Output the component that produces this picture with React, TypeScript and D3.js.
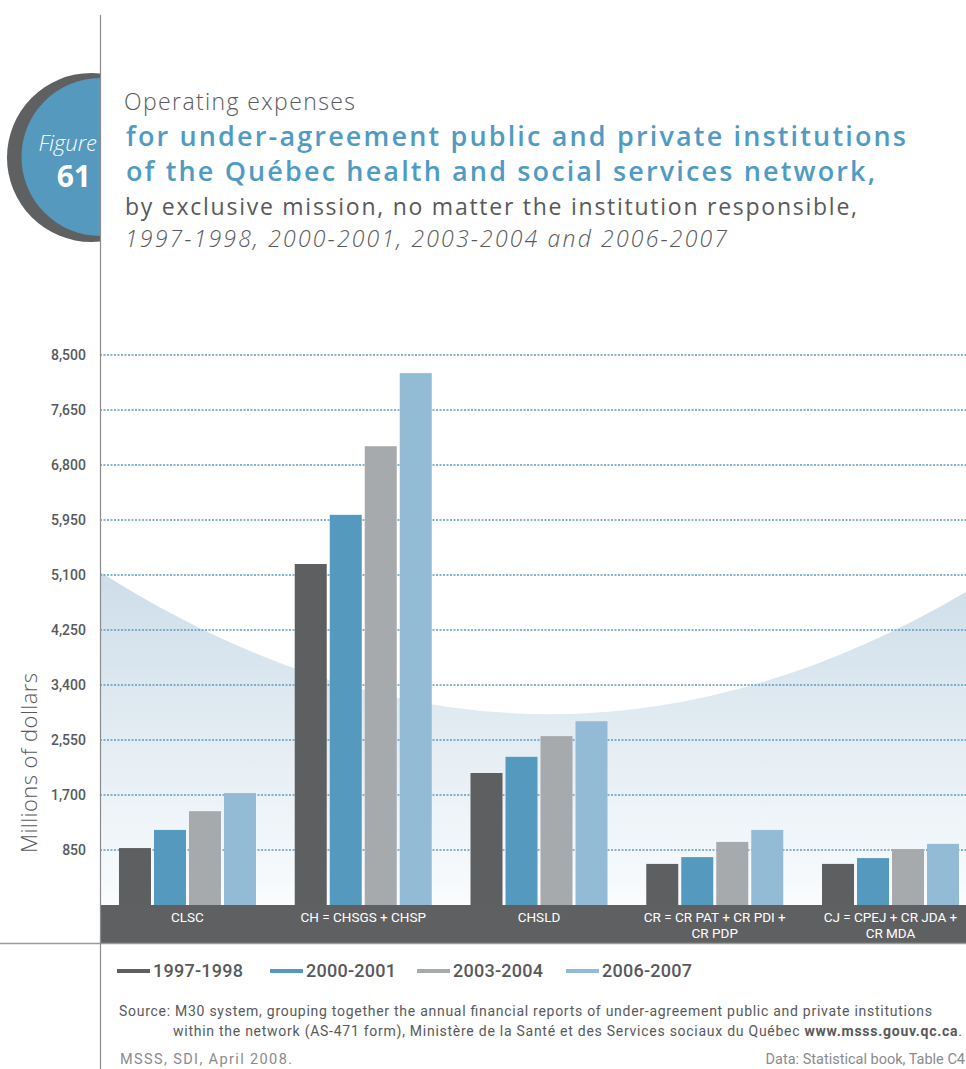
import React from "react";
import * as d3 from "d3";

const categories = ["CLSC", "CH", "CHSLD", "CR", "CJ"];
const categoryLabels = [
  ["CLSC"],
  ["CH = CHSGS + CHSP"],
  ["CHSLD"],
  ["CR = CR PAT + CR PDI +", "CR PDP"],
  ["CJ = CPEJ + CR JDA +", "CR MDA"],
];
const seriesNames = ["1997-1998", "2000-2001", "2003-2004", "2006-2007"];
const values1997 = [880, 5270, 2040, 635, 635];
const values2000 = [1160, 6030, 2290, 740, 725];
const values2003 = [1450, 7090, 2610, 975, 865];
const values2006 = [1730, 8220, 2840, 1160, 945];
const yTicks = [850, 1700, 2550, 3400, 4250, 5100, 5950, 6800, 7650, 8500];
const seriesColors = ["#5e5f61", "#5599bf", "#a7aaad", "#94bbd5"];

const W = 966;
const H = 1069;
const AXIS_X = 100;
const PLOT_TOP = 355;
const PLOT_BOTTOM = 905;
const BAND_BOTTOM = 943;

export default function App() {
  const series = [values1997, values2000, values2003, values2006];
  const y = d3.scaleLinear().domain([0, 8500]).range([PLOT_BOTTOM, PLOT_TOP]);
  const x0 = d3
    .scaleBand<string>()
    .domain(categories)
    .range([AXIS_X, 978])
    .paddingInner(0.2205)
    .paddingOuter(0.108);
  const x1 = d3
    .scaleBand<string>()
    .domain(seriesNames)
    .range([0, x0.bandwidth()])
    .paddingInner(0.0857)
    .paddingOuter(0);
  const fmt = d3.format(",");

  const curve = `M${AXIS_X},572 Q533,846 ${W},592 L${W},${PLOT_BOTTOM} L${AXIS_X},${PLOT_BOTTOM} Z`;

  const grey = "#58595b";
  const legendX = [117, 270, 417, 566];

  return (
    <div style={{ position: "absolute", left: 0, top: 0 }}>
      <svg width={W} height={H} style={{ display: "block", background: "#fff" }}>
        <defs>
          <linearGradient id="bgGrad" x1="0" y1="572" x2="0" y2={PLOT_BOTTOM} gradientUnits="userSpaceOnUse">
            <stop offset="0" stopColor="#cddde9" />
            <stop offset="1" stopColor="#fafcfd" />
          </linearGradient>
          <clipPath id="badgeClip">
            <rect x={0} y={0} width={AXIS_X} height={400} />
          </clipPath>
        </defs>

        {/* badge */}
        <g clipPath="url(#badgeClip)">
          <circle cx={91.5} cy={157.5} r={84.5} fill="#5f6062" />
          <circle cx={100.5} cy={157} r={79} fill="#5599bf" />
        </g>
        <text x={97} y={151} textAnchor="end" fill="#fff" fontFamily="'Open Sans', sans-serif" fontStyle="italic" fontWeight={300} fontSize={22}>
          Figure
        </text>
        <text x={91} y={187} textAnchor="end" fill="#fff" fontFamily="'Open Sans', sans-serif" fontWeight={700} fontSize={30}>
          61
        </text>

        {/* title */}
        <text x={124} y={110} fill={grey} fontFamily="'Open Sans', sans-serif" fontWeight={300} fontSize={23} textLength={231}>
          Operating expenses
        </text>
        <text x={126} y={146} fill="#4f9bc4" fontFamily="'Open Sans', sans-serif" fontWeight={600} fontSize={27} textLength={780}>
          for under-agreement public and private institutions
        </text>
        <text x={126} y={181} fill="#4f9bc4" fontFamily="'Open Sans', sans-serif" fontWeight={600} fontSize={27} textLength={749}>
          of the Québec health and social services network,
        </text>
        <text x={125} y={215} fill={grey} fontFamily="'Open Sans', sans-serif" fontWeight={400} fontSize={23} textLength={732}>
          by exclusive mission, no matter the institution responsible,
        </text>
        <text x={125} y={247} fill={grey} fontFamily="'Open Sans', sans-serif" fontStyle="italic" fontWeight={300} fontSize={23} textLength={602}>
          1997-1998, 2000-2001, 2003-2004 and 2006-2007
        </text>

        {/* background shape */}
        <path d={curve} fill="url(#bgGrad)" />

        {/* gridlines */}
        {yTicks.map((t) => (
          <line
            key={t}
            x1={AXIS_X}
            x2={W}
            y1={y(t)}
            y2={y(t)}
            stroke="#5b9bc4"
            strokeWidth={1.5}
            strokeDasharray="2 1.5"
          />
        ))}
        {yTicks.map((t) => (
          <text
            key={"l" + t}
            x={86}
            y={y(t) + 5}
            textAnchor="end"
            fill={grey}
            fontFamily="Roboto, sans-serif"
            fontWeight={500}
            fontSize={14}
          >
            {fmt(t)}
          </text>
        ))}

        {/* bars */}
        {categories.map((c, ci) => (
          <g key={c} transform={`translate(${x0(c)},0)`}>
            {seriesNames.map((s, si) => {
              const v = series[si][ci];
              return (
                <rect
                  key={s}
                  x={x1(s)}
                  y={y(v)}
                  width={x1.bandwidth()}
                  height={y(0) - y(v)}
                  fill={seriesColors[si]}
                />
              );
            })}
          </g>
        ))}

        {/* category band */}
        <rect x={AXIS_X} y={PLOT_BOTTOM} width={W - AXIS_X} height={BAND_BOTTOM - PLOT_BOTTOM} fill="#5f6062" />
        {categories.map((c, ci) =>
          categoryLabels[ci].map((line, li) => (
            <text
              key={c + li}
              x={(x0(c) as number) + x0.bandwidth() / 2}
              y={PLOT_BOTTOM + 17 + li * 16}
              textAnchor="middle"
              fill="#fff"
              fontFamily="Roboto, sans-serif"
              fontWeight={400}
              fontSize={13.5}
            >
              {line}
            </text>
          ))
        )}

        {/* axis lines */}
        <line x1={0} x2={W} y1={BAND_BOTTOM + 0.5} y2={BAND_BOTTOM + 0.5} stroke="#9a9b9d" strokeWidth={1.5} />
        <line x1={AXIS_X + 0.5} x2={AXIS_X + 0.5} y1={15} y2={H} stroke="#8a8b8d" strokeWidth={1.2} />

        {/* y axis title */}
        <text
          transform={`translate(37,763) rotate(-90)`}
          textAnchor="middle"
          fill={grey}
          fontFamily="'Open Sans', sans-serif"
          fontWeight={300}
          fontSize={22}
          textLength={180}
        >
          Millions of dollars
        </text>

        {/* legend */}
        {seriesNames.map((s, i) => (
          <g key={s}>
            <line x1={legendX[i]} x2={legendX[i] + 33} y1={971} y2={971} stroke={seriesColors[i]} strokeWidth={4} />
            <text x={legendX[i] + 36} y={977} fill={grey} fontFamily="Roboto, sans-serif" fontWeight={500} fontSize={18} textLength={90}>
              {s}
            </text>
          </g>
        ))}

        {/* source */}
        <text x={119} y={1016} fill={grey} fontFamily="Roboto, sans-serif" fontWeight={400} fontSize={14} textLength={813}>
          Source: M30 system, grouping together the annual financial reports of under-agreement public and private institutions
        </text>
        <text x={173} y={1036} fill={grey} fontFamily="Roboto, sans-serif" fontWeight={400} fontSize={14} textLength={789}>
          within the network (AS-471 form), Ministère de la Santé et des Services sociaux du Québec{" "}
          <tspan fontWeight={700}>www.msss.gouv.qc.ca</tspan>.
        </text>
        <text x={120} y={1064} fill="#8a8b8d" fontFamily="Roboto, sans-serif" fontWeight={400} fontSize={14.5} textLength={172}>
          MSSS, SDI, April 2008.
        </text>
        <text x={965} y={1064} textAnchor="end" fill="#8a8b8d" fontFamily="Roboto, sans-serif" fontWeight={400} fontSize={14.5}>
          Data: Statistical book, Table C4
        </text>
      </svg>
    </div>
  );
}
